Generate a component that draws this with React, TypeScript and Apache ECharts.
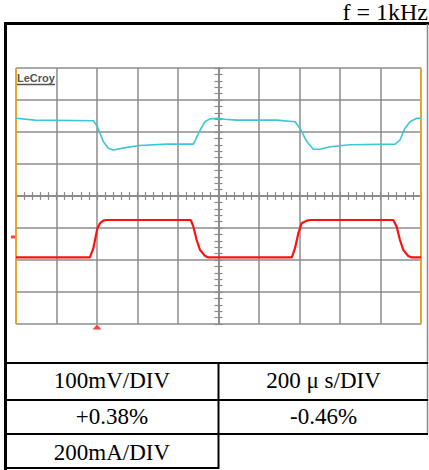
import React, { useEffect, useRef } from "react";
import * as echarts from "echarts";

// Time relative to screen centre (µs), 200 µs/DIV, 10 divisions
const cyanTime = [-1000, -906, -618, -598, -569, -544, -520, -453, -388, -256, -124, -91, -67, -42, -1, 32, 90, 287, 378, 402, 436, 468, 501, 551, 649, 872, 896, 921, 946, 979, 1000];
// Voltage trace, in divisions (100 mV/DIV)
const cyanDiv = [2.43, 2.37, 2.35, 2.17, 1.70, 1.49, 1.44, 1.52, 1.58, 1.62, 1.62, 2.06, 2.32, 2.41, 2.43, 2.40, 2.37, 2.37, 2.32, 2.12, 1.70, 1.46, 1.46, 1.54, 1.60, 1.62, 1.75, 2.12, 2.32, 2.43, 2.43];

const redTime = [-1000, -635, -618, -598, -585, -569, -556, -137, -124, -108, -91, -67, -50, 362, 378, 394, 411, 436, 452, 863, 880, 896, 913, 937, 954, 1000];
// Current trace, in divisions (200 mA/DIV)
const redDiv = [-1.92, -1.92, -1.63, -1.01, -0.85, -0.77, -0.75, -0.75, -0.96, -1.375, -1.69, -1.87, -1.92, -1.92, -1.63, -1.17, -0.85, -0.77, -0.75, -0.75, -0.96, -1.375, -1.69, -1.875, -1.92, -1.92];

const triggerTime = -600;
const redLevel = -1.28;

const title = "f = 1kHz";
const cells = [
  ["100mV/DIV", "200 μ s/DIV"],
  ["+0.38%", "-0.46%"],
  ["200mA/DIV", ""],
];

const GRID = "#8c8c8c";
const SERIF = "'Liberation Serif', 'Times New Roman', serif";

export default function App() {
  const ref = useRef<HTMLDivElement>(null);
  useEffect(() => {
    if (!ref.current) return;
    const chart = echarts.init(ref.current, null, { renderer: "svg" });
    const xBase = (pos: "bottom" | "top", split: boolean) => ({
      type: "value",
      min: -1000,
      max: 1000,
      interval: 200,
      position: pos,
      axisLine: { onZero: true, lineStyle: { color: GRID, width: 1.5 } },
      axisTick: { show: true, length: 4, lineStyle: { color: GRID, width: 1.2 } },
      minorTick: { show: true, splitNumber: 5, length: 4, lineStyle: { color: GRID, width: 1.2 } },
      axisLabel: { show: false },
      splitLine: { show: split, lineStyle: { color: GRID, width: 1.5 } },
    });
    const yBase = (pos: "left" | "right", split: boolean) => ({
      type: "value",
      min: -4,
      max: 4,
      interval: 1,
      position: pos,
      axisLine: { onZero: true, onZeroAxisIndex: 0, lineStyle: { color: GRID, width: 1.5 } },
      axisTick: { show: true, length: 4, lineStyle: { color: GRID, width: 1.2 } },
      minorTick: { show: true, splitNumber: 5, length: 4, lineStyle: { color: GRID, width: 1.2 } },
      axisLabel: { show: false },
      splitLine: { show: split, lineStyle: { color: GRID, width: 1.5 } },
    });
    const line = (x1: number, y1: number, x2: number, y2: number, color: string, w: number) => ({
      type: "line",
      shape: { x1, y1, x2, y2 },
      style: { stroke: color, lineWidth: w },
      silent: true,
    });
    const txt = (x: number, y: number, text: string, size: number, align = "center") => ({
      type: "text",
      x,
      y,
      style: {
        text,
        fill: "#000",
        fontFamily: SERIF,
        fontSize: size,
        textAlign: align,
        textVerticalAlign: "middle",
      },
      silent: true,
    });
    const rowsY = [380.5, 416.5, 452];
    const colX = [112, 323.5];
    const texts: any[] = [];
    cells.forEach((row, r) =>
      row.forEach((c, i) => {
        if (c) texts.push(txt(colX[i], rowsY[r], c, 23));
      })
    );
    chart.setOption({
      animation: false,
      backgroundColor: "#fff",
      grid: { left: 16, top: 68, width: 405, height: 256, containLabel: false },
      xAxis: [xBase("bottom", true), xBase("top", false)],
      yAxis: [yBase("left", true), yBase("right", false)],
      series: [
        {
          type: "line",
          name: "voltage",
          data: cyanTime.map((t, i) => [t, cyanDiv[i]]),
          showSymbol: false,
          lineStyle: { color: "#3cc6d6", width: 1.6 },
          z: 5,
          markLine: {
            silent: true,
            symbol: "none",
            label: { show: false },
            lineStyle: { color: "#ffa500", width: 1.5, type: "solid" },
            data: [{ xAxis: -1000 }, { xAxis: 1000 }],
          },
        },
        {
          type: "line",
          name: "current",
          data: redTime.map((t, i) => [t, redDiv[i]]),
          showSymbol: false,
          lineStyle: { color: "#ff1010", width: 2.2 },
          z: 6,
        },
        {
          type: "scatter",
          name: "markers",
          clip: false,
          silent: true,
          z: 7,
          data: [
            { value: [triggerTime, -4], symbol: "triangle", symbolSize: [9, 5], symbolOffset: [0, 3] },
            { value: [-1000, redLevel], symbol: "rect", symbolSize: [4, 3], symbolOffset: [-3, 0] },
          ],
          itemStyle: { color: "#ff1010" },
        },
      ],
      graphic: [
        line(4, 23.5, 429, 23.5, "#000", 3),
        line(5.5, 22, 5.5, 470, "#000", 3),
        line(427.5, 24, 427.5, 434, "#8a8a8a", 1.5),
        line(5, 363, 428, 363, "#000", 2),
        line(5, 400, 428, 400, "#000", 2),
        line(5, 434, 428, 434, "#000", 2),
        line(5, 468, 219, 468, "#000", 2),
        line(218.5, 363, 218.5, 469, "#000", 2),
        txt(428, 12, title, 24, "right"),
        ...texts,
        {
          type: "text",
          x: 17,
          y: 78,
          style: {
            text: "LeCroy",
            fill: "#555",
            fontFamily: "Liberation Sans",
            fontWeight: "bold",
            fontSize: 11,
            textAlign: "left",
            textVerticalAlign: "middle",
          },
          silent: true,
        },
        line(17, 84.5, 55, 84.5, "#555", 1.5),
      ],
    });
    return () => chart.dispose();
  }, []);
  return (
    <div
      ref={ref}
      style={{ position: "absolute", left: 0, top: 0, width: 429, height: 470, background: "#fff" }}
    />
  );
}
